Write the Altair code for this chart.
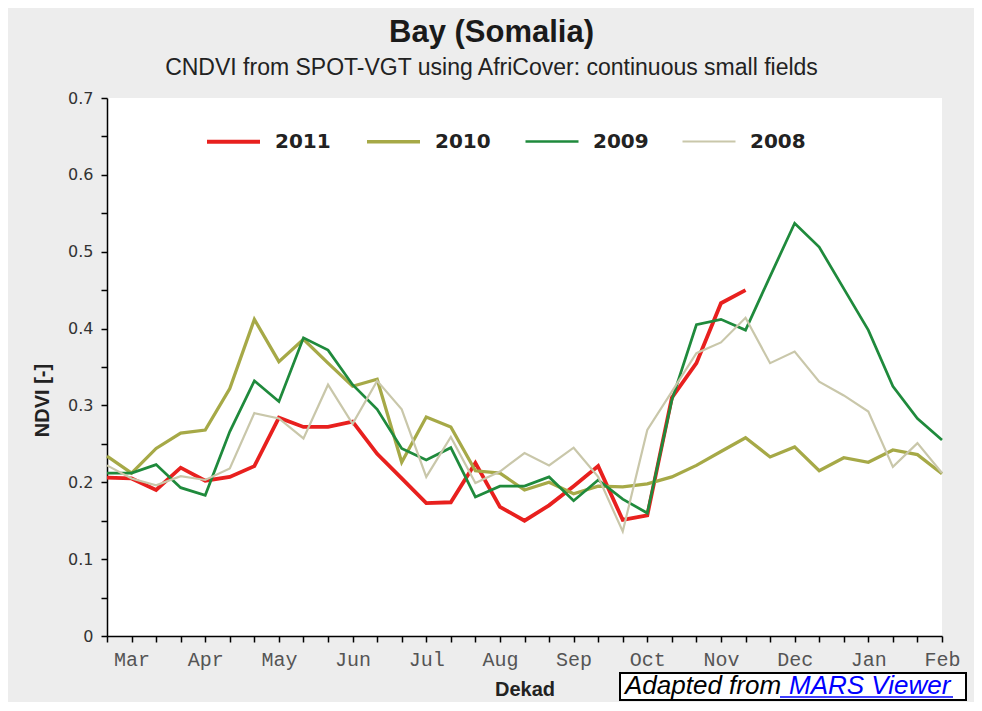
import json
import altair as alt
import pandas as pd

month_labels = ["Mar", "Apr", "May", "Jun", "Jul", "Aug", "Sep", "Oct", "Nov", "Dec", "Jan", "Feb"]
years = ["2011", "2010", "2009", "2008"]
colors = ["#e8201e", "#a6a947", "#1f8a3c", "#c9c7aa"]
widths = [3.8, 2.2, 2.6, 2.2]

ndvi_2011 = [0.206, 0.205, 0.190, 0.219, 0.202, 0.207, 0.221, 0.284, 0.272, 0.272,
             0.279, 0.237, 0.205, 0.173, 0.174, 0.225, 0.168, 0.150, 0.170, 0.195,
             0.221, 0.151, 0.157, 0.310, 0.355, 0.433, 0.450]
ndvi_2010 = [0.234, 0.212, 0.244, 0.264, 0.268, 0.322, 0.412, 0.357, 0.386, 0.355,
             0.325, 0.334, 0.226, 0.285, 0.272, 0.215, 0.212, 0.190, 0.200, 0.185,
             0.195, 0.194, 0.198, 0.207, 0.222, 0.240, 0.258, 0.233, 0.246, 0.215,
             0.232, 0.226, 0.242, 0.236, 0.211]
ndvi_2009 = [0.212, 0.212, 0.223, 0.193, 0.183, 0.266, 0.332, 0.305, 0.388, 0.372,
             0.327, 0.295, 0.244, 0.229, 0.245, 0.181, 0.195, 0.195, 0.207, 0.176,
             0.203, 0.178, 0.160, 0.307, 0.405, 0.412, 0.398, 0.468, 0.537, 0.506,
             0.452, 0.398, 0.325, 0.283, 0.255]
ndvi_2008 = [0.222, 0.205, 0.196, 0.208, 0.203, 0.218, 0.290, 0.283, 0.257, 0.327,
             0.276, 0.332, 0.295, 0.207, 0.259, 0.199, 0.214, 0.238, 0.222, 0.245,
             0.207, 0.136, 0.268, 0.318, 0.368, 0.382, 0.414, 0.355, 0.370, 0.331,
             0.313, 0.292, 0.220, 0.251, 0.212]

series = {"2011": ndvi_2011, "2010": ndvi_2010, "2009": ndvi_2009, "2008": ndvi_2008}
rows = []
for yr, vals in series.items():
    for i, v in enumerate(vals):
        rows.append({"year": yr, "dekad": i, "ndvi": v})
df = pd.DataFrame(rows)

n_dekads = 35
x_label_expr = ("datum.value % 3 == 1 ? " + json.dumps(month_labels)
                + "[floor(datum.value / 3)] : ''")
y_label_expr = ("abs(datum.value * 10 - round(datum.value * 10)) < 0.01 ? "
                "(datum.value == 0 ? '0' : format(datum.value, '.1f')) : ''")

lines = alt.Chart(df).mark_line(strokeJoin="miter").encode(
    x=alt.X("dekad:Q",
            scale=alt.Scale(domain=[0, n_dekads - 1], nice=False, zero=False),
            axis=alt.Axis(title="Dekad", values=list(range(n_dekads)),
                          labelExpr=x_label_expr, labelOverlap=False, labelFlush=False,
                          labelFont="Liberation Mono", labelFontSize=20, labelColor="#555555",
                          labelPadding=7, tickSize=6,
                          titleFont="Liberation Sans", titleFontSize=20, titleFontWeight="bold",
                          titleColor="#222222", titleY=43, titleBaseline="top")),
    y=alt.Y("ndvi:Q",
            scale=alt.Scale(domain=[0, 0.7], nice=False),
            axis=alt.Axis(title="NDVI [-]", values=[round(i * 0.05, 2) for i in range(15)],
                          labelExpr=y_label_expr, labelOverlap=False, labelFlush=False,
                          labelFont="DejaVu Sans", labelFontSize=16, labelColor="#333333",
                          labelPadding=8, tickSize=6,
                          titleFont="Liberation Sans", titleFontSize=20, titleFontWeight="bold",
                          titleColor="#222222", titleX=-55, titleY=302, titleAngle=-90,
                          titleAlign="center")),
    color=alt.Color("year:N",
                    scale=alt.Scale(domain=years, range=colors),
                    legend=alt.Legend(title=None, orient="none", direction="horizontal",
                                      legendX=98, legendY=15, padding=0,
                                      symbolType="stroke", symbolSize=2809,
                                      symbolStrokeWidth=3, labelOffset=13,
                                      columnPadding=29,
                                      labelFont="DejaVu Sans", labelFontSize=20,
                                      labelFontWeight="bold", labelColor="#222222")),
    strokeWidth=alt.StrokeWidth("year:N", scale=alt.Scale(domain=years, range=widths),
                                legend=None),
)

annot = pd.DataFrame({"a": [1]})
box = alt.Chart(annot).mark_rect(fill="white", stroke="black", strokeWidth=2).encode(
    x=alt.value(513), x2=alt.value(859), y=alt.value(575), y2=alt.value(602))
txt1 = alt.Chart(annot).mark_text(text="Adapted from", font="Liberation Sans",
                                  fontStyle="italic", fontSize=26, color="black",
                                  align="left", baseline="alphabetic").encode(
    x=alt.value(518), y=alt.value(596))
txt2 = alt.Chart(annot).mark_text(text="MARS Viewer", font="Liberation Sans",
                                  fontStyle="italic", fontSize=26, color="#0000ff",
                                  align="left", baseline="alphabetic").encode(
    x=alt.value(682), y=alt.value(596))
underline = alt.Chart(annot).mark_rule(color="#0000ff", strokeWidth=1.5).encode(
    x=alt.value(673), x2=alt.value(846), y=alt.value(599))

chart = alt.layer(lines, box, txt1, txt2, underline).properties(
    width=835, height=538,
    autosize=alt.AutoSizeParams(type="none"),
    padding={"left": 99, "top": 90, "right": 32, "bottom": 66},
    background="#ededed",
    title=alt.TitleParams(text="Bay (Somalia)",
                          subtitle="CNDVI from SPOT-VGT using AfriCover: continuous small fields",
                          anchor="middle", frame="group", dx=-33, offset=9,
                          font="Liberation Sans", fontSize=31, fontWeight="bold",
                          color="#1a1a1a", subtitleFont="Liberation Sans",
                          subtitleFontSize=23, subtitleColor="#222222", subtitlePadding=8),
).configure_view(fill="white", stroke=None).configure_axis(
    grid=False, domainColor="black", tickColor="black", domainWidth=1.5, tickWidth=1.5)

chart.save("out.html", embed_options={"renderer": "svg", "actions": False})
